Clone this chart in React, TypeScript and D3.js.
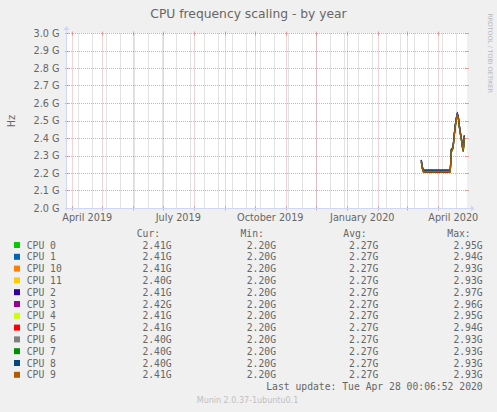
import React from 'react';
import * as d3 from 'd3';

const W = 497;
const H = 412;

// Legend / series identity
const cpuNames = ['CPU 0', 'CPU 1', 'CPU 10', 'CPU 11', 'CPU 2', 'CPU 3', 'CPU 4', 'CPU 5', 'CPU 6', 'CPU 7', 'CPU 8', 'CPU 9'];
const cpuColors = ['#00CC00', '#0066B3', '#FF8000', '#FFCC00', '#330099', '#990099', '#CCFF00', '#FF0000', '#808080', '#008F00', '#00487D', '#B35A00'];
const curVals = ['2.41G', '2.41G', '2.41G', '2.40G', '2.41G', '2.42G', '2.41G', '2.41G', '2.40G', '2.40G', '2.40G', '2.41G'];
const minVals = ['2.20G', '2.20G', '2.20G', '2.20G', '2.20G', '2.20G', '2.20G', '2.20G', '2.20G', '2.20G', '2.20G', '2.20G'];
const avgVals = ['2.27G', '2.27G', '2.27G', '2.27G', '2.27G', '2.27G', '2.27G', '2.27G', '2.27G', '2.27G', '2.27G', '2.27G'];
const maxVals = ['2.95G', '2.94G', '2.93G', '2.93G', '2.97G', '2.96G', '2.95G', '2.94G', '2.93G', '2.93G', '2.93G', '2.93G'];

// Daily averages (GHz) from 2020-03-15 to 2020-04-27, common to all CPUs
const seriesStartUTC = Date.UTC(2020, 2, 15);
const baseFreq = [
  2.270, 2.232, 2.214, 2.212, 2.211, 2.212, 2.211, 2.212, 2.211, 2.212,
  2.212, 2.211, 2.212, 2.211, 2.212, 2.212, 2.211, 2.212, 2.212, 2.211,
  2.212, 2.211, 2.212, 2.212, 2.211, 2.212, 2.212, 2.211, 2.212, 2.213,
  2.330, 2.335, 2.360, 2.420, 2.470, 2.510, 2.535, 2.520, 2.470, 2.430,
  2.400, 2.355, 2.330, 2.410,
];
// small per-CPU separation (GHz)
const cpuOffsets = [-0.004, 0.004, -0.003, 0.002, 0.008, 0.006, 0.001, -0.005, 0.0, -0.002, 0.007, 0.0];

const yTicks = [2.0, 2.1, 2.2, 2.3, 2.4, 2.5, 2.6, 2.7, 2.8, 2.9, 3.0];
const yTickLabels = ['2.0 G', '2.1 G', '2.2 G', '2.3 G', '2.4 G', '2.5 G', '2.6 G', '2.7 G', '2.8 G', '2.9 G', '3.0 G'];

const title = 'CPU frequency scaling - by year';
const lastUpdate = 'Last update: Tue Apr 28 00:06:52 2020';
const footer = 'Munin 2.0.37-1ubuntu0.1';
const watermark = 'RRDTOOL / TOBI OETIKER';

const xStart = new Date(Date.UTC(2019, 2, 26, 17));
const xEnd = new Date(Date.UTC(2020, 3, 29, 17));

const PL = 67, PR = 467, PT = 33.5, PB = 208.5;
const FONT = '#666666';
const AXIS = '#CFD6F8';
const GRID = 'rgba(143,143,143,0.5)';
const MGRID = 'rgba(222,79,79,0.5)';
const SANS = '"DejaVu Sans", Verdana, sans-serif';
const MONO = '"DejaVu Sans Mono", monospace';

export default function App() {
  const x = d3.scaleTime().domain([xStart, xEnd]).range([PL, PR]);
  const y = d3.scaleLinear().domain([2.0, 3.0]).range([PB, PT]);
  const snap = (v: number) => Math.floor(v) + 0.5;

  const minor = d3.utcDay
    .range(new Date(Date.UTC(2019, 2, 24)), xEnd, 14)
    .filter((d) => x(d) >= PL && x(d) <= PR);
  const major = d3.utcMonth.range(xStart, xEnd);
  const labelMonths = d3.utcMonth.every(3)!.range(xStart, xEnd);
  const fmt = d3.utcFormat('%B %Y');

  const data = cpuOffsets.map((off) =>
    baseFreq.map((v, i) => ({ date: d3.utcDay.offset(new Date(seriesStartUTC), i), v: v + off }))
  );
  const line = d3
    .line<{ date: Date; v: number }>()
    .x((d) => x(d.date))
    .y((d) => y(d.v));

  const rowY0 = 245;
  const rowH = 11.8;

  return (
    <svg width={W} height={H} style={{ position: 'absolute', left: 0, top: 0, display: 'block' }}>
      <rect x={0} y={0} width={W} height={H} fill="#F0F0F0" />
      <rect x={PL} y={PT - 0.5} width={PR - PL} height={PB - PT + 0.5} fill="#FFFFFF" />

      {/* minor vertical grid */}
      {minor.map((d, i) => (
        <line key={'mi' + i} x1={snap(x(d))} x2={snap(x(d))} y1={PT} y2={PB} stroke={GRID} strokeWidth={1} strokeDasharray="1,1" />
      ))}
      {/* major vertical grid */}
      {major.map((d, i) => (
        <g key={'ma' + i}>
          <line x1={snap(x(d))} x2={snap(x(d))} y1={PT} y2={PB} stroke={MGRID} strokeWidth={1} strokeDasharray="1,1" />
          <line x1={snap(x(d))} x2={snap(x(d))} y1={PT - 2} y2={PT + 2} stroke={MGRID} strokeWidth={1} />
          <line x1={snap(x(d))} x2={snap(x(d))} y1={PB - 2} y2={PB + 2} stroke={MGRID} strokeWidth={1} />
        </g>
      ))}
      {/* horizontal grid */}
      {yTicks.map((t, i) => (
        <g key={'h' + i}>
          <line x1={PL} x2={PR} y1={snap(y(t))} y2={snap(y(t))} stroke={MGRID} strokeWidth={1} strokeDasharray="1,1" />
          <line x1={PL - 2} x2={PL + 2} y1={snap(y(t))} y2={snap(y(t))} stroke={MGRID} strokeWidth={1} />
          <line x1={PR - 2} x2={PR + 2} y1={snap(y(t))} y2={snap(y(t))} stroke={MGRID} strokeWidth={1} />
        </g>
      ))}

      {/* series */}
      {data.map((s, i) => (
        <path key={'s' + i} d={line(s) || ''} fill="none" stroke={cpuColors[i]} strokeWidth={1.2} />
      ))}

      {/* axes */}
      <line x1={PL - 0.5} x2={PL - 0.5} y1={PB + 2} y2={PT - 4} stroke={AXIS} strokeWidth={1} />
      <polygon points={`${PL - 3.5},${PT - 3.5} ${PL + 2.5},${PT - 3.5} ${PL - 0.5},${PT - 7.5}`} fill={AXIS} />
      <line x1={PL - 2} x2={PR + 4} y1={PB} y2={PB} stroke={AXIS} strokeWidth={1} />
      <polygon points={`${PR + 4},${PB - 3} ${PR + 4},${PB + 3} ${PR + 7.5},${PB}`} fill={AXIS} />

      {/* y tick labels */}
      {yTicks.map((t, i) => (
        <text key={'yl' + i} x={59.5} y={y(t) + 3.4} textAnchor="end" fontFamily={SANS} fontSize={9.7} fill={FONT}>
          {yTickLabels[i]}
        </text>
      ))}
      {/* x labels */}
      {labelMonths.map((d, i) => (
        <text key={'xl' + i} x={x(d3.utcDay.offset(d, 15))} y={220.8} textAnchor="middle" fontFamily={SANS} fontSize={9.7} fill={FONT}>
          {fmt(d)}
        </text>
      ))}

      {/* title & axis label */}
      <text x={248.5} y={18} textAnchor="middle" fontFamily={SANS} fontSize={12.3} fill={FONT}>{title}</text>
      <text transform={`translate(14.5,${(PT + PB) / 2}) rotate(-90)`} textAnchor="middle" fontFamily={SANS} fontSize={9.7} fill={FONT}>Hz</text>
      <text transform={`translate(488,53.3) rotate(90)`} textAnchor="middle" fontFamily={SANS} fontSize={6.2} fill="#B8B8B8">{watermark}</text>

      {/* legend */}
      <g fontFamily={MONO} fontSize={9.72} fill={FONT}>
        <text x={136.7} y={rowY0 - rowH + 3.5}>Cur:</text>
        <text x={240.5} y={rowY0 - rowH + 3.5}>Min:</text>
        <text x={343.3} y={rowY0 - rowH + 3.5}>Avg:</text>
        <text x={447.3} y={rowY0 - rowH + 3.5}>Max:</text>
        {cpuNames.map((n, i) => {
          const cy = rowY0 + i * rowH;
          return (
            <g key={'lg' + i}>
              <rect x={14} y={cy - 3} width={6} height={6} fill={cpuColors[i]} />
              <text x={26.7} y={cy + 3.5}>{n}</text>
              <text x={171.7} y={cy + 3.5} textAnchor="end">{curVals[i]}</text>
              <text x={276} y={cy + 3.5} textAnchor="end">{minVals[i]}</text>
              <text x={378.3} y={cy + 3.5} textAnchor="end">{avgVals[i]}</text>
              <text x={482.7} y={cy + 3.5} textAnchor="end">{maxVals[i]}</text>
            </g>
          );
        })}
        <text x={482.7} y={rowY0 + 12 * rowH + 3.5} textAnchor="end">{lastUpdate}</text>
      </g>
      <text x={247.5} y={402.5} textAnchor="middle" fontFamily={SANS} fontSize={8} fill="#C0C0C0">{footer}</text>
    </svg>
  );
}
